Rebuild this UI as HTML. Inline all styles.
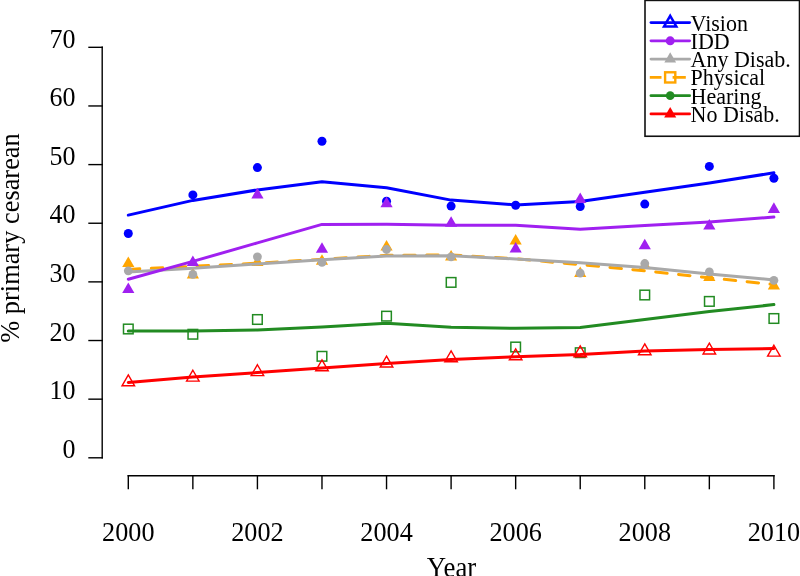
<!DOCTYPE html>
<html><head><meta charset="utf-8"><title>% primary cesarean by year</title>
<style>html,body{margin:0;padding:0;background:#fff;}svg{display:block;}</style></head>
<body><svg width="800" height="576" viewBox="0 0 800 576">
<rect width="800" height="576" fill="#fff"/>
<g stroke="#000" stroke-width="1.4" fill="none" stroke-linecap="square">
<line x1="102.2" y1="47.32" x2="102.2" y2="457.8"/>
<line x1="89" y1="457.8" x2="102.2" y2="457.8"/>
<line x1="89" y1="399.16" x2="102.2" y2="399.16"/>
<line x1="89" y1="340.52" x2="102.2" y2="340.52"/>
<line x1="89" y1="281.88" x2="102.2" y2="281.88"/>
<line x1="89" y1="223.24" x2="102.2" y2="223.24"/>
<line x1="89" y1="164.6" x2="102.2" y2="164.6"/>
<line x1="89" y1="105.96" x2="102.2" y2="105.96"/>
<line x1="89" y1="47.32" x2="102.2" y2="47.32"/>
<line x1="128.3" y1="475.8" x2="773.9" y2="475.8"/>
<line x1="128.3" y1="475.8" x2="128.3" y2="488.6"/>
<line x1="192.86" y1="475.8" x2="192.86" y2="488.6"/>
<line x1="257.42" y1="475.8" x2="257.42" y2="488.6"/>
<line x1="321.98" y1="475.8" x2="321.98" y2="488.6"/>
<line x1="386.54" y1="475.8" x2="386.54" y2="488.6"/>
<line x1="451.1" y1="475.8" x2="451.1" y2="488.6"/>
<line x1="515.66" y1="475.8" x2="515.66" y2="488.6"/>
<line x1="580.22" y1="475.8" x2="580.22" y2="488.6"/>
<line x1="644.78" y1="475.8" x2="644.78" y2="488.6"/>
<line x1="709.34" y1="475.8" x2="709.34" y2="488.6"/>
<line x1="773.9" y1="475.8" x2="773.9" y2="488.6"/>
</g>
<g font-family="'Liberation Serif', 'Times New Roman', serif" fill="#000">
<text transform="translate(75.6,458) scale(1,1.09)" font-size="26" text-anchor="end">0</text>
<text transform="translate(75.6,399.36) scale(1,1.09)" font-size="26" text-anchor="end">10</text>
<text transform="translate(75.6,340.72) scale(1,1.09)" font-size="26" text-anchor="end">20</text>
<text transform="translate(75.6,282.08) scale(1,1.09)" font-size="26" text-anchor="end">30</text>
<text transform="translate(75.6,223.44) scale(1,1.09)" font-size="26" text-anchor="end">40</text>
<text transform="translate(75.6,164.8) scale(1,1.09)" font-size="26" text-anchor="end">50</text>
<text transform="translate(75.6,106.16) scale(1,1.09)" font-size="26" text-anchor="end">60</text>
<text transform="translate(75.6,47.52) scale(1,1.09)" font-size="26" text-anchor="end">70</text>
<text transform="translate(128.3,540.7) scale(1,1.07)" font-size="26.2" text-anchor="middle">2000</text>
<text transform="translate(257.42,540.7) scale(1,1.07)" font-size="26.2" text-anchor="middle">2002</text>
<text transform="translate(386.54,540.7) scale(1,1.07)" font-size="26.2" text-anchor="middle">2004</text>
<text transform="translate(515.66,540.7) scale(1,1.07)" font-size="26.2" text-anchor="middle">2006</text>
<text transform="translate(644.78,540.7) scale(1,1.07)" font-size="26.2" text-anchor="middle">2008</text>
<text transform="translate(773.9,540.7) scale(1,1.07)" font-size="26.2" text-anchor="middle">2010</text>
<text transform="translate(451.5,576.6) scale(1,1.07)" font-size="26.8" text-anchor="middle">Year</text>
<text transform="translate(19.3,238) rotate(-90) scale(1,1.0)" font-size="26.4" text-anchor="middle">% primary cesarean</text>
</g>
<polyline points="128.3,269.4 192.86,266.3 257.42,263.2 321.98,259.3 386.54,255.3 451.1,255 515.66,258.8 580.22,264.6 644.78,270.8 709.34,277.8 773.9,284.5" fill="none" stroke="#FFA500" stroke-width="3.0" stroke-linejoin="round" stroke-linecap="round" stroke-dasharray="11.49 11.49"/>
<polygon points="128.3,256.56 134.4,267.12 122.2,267.12" fill="#FFA500"/>
<polygon points="192.86,267.86 198.96,278.42 186.76,278.42" fill="#FFA500"/>
<polygon points="257.42,255.56 263.52,266.12 251.32,266.12" fill="#FFA500"/>
<polygon points="321.98,254.16 328.08,264.72 315.88,264.72" fill="#FFA500"/>
<polygon points="386.54,240.06 392.64,250.62 380.44,250.62" fill="#FFA500"/>
<polygon points="451.1,250.06 457.2,260.62 445,260.62" fill="#FFA500"/>
<polygon points="515.66,233.96 521.76,244.52 509.56,244.52" fill="#FFA500"/>
<polygon points="580.22,266.46 586.32,277.02 574.12,277.02" fill="#FFA500"/>
<polygon points="644.78,258.76 650.88,269.32 638.68,269.32" fill="#FFA500"/>
<polygon points="709.34,270.56 715.44,281.12 703.24,281.12" fill="#FFA500"/>
<polygon points="773.9,278.86 780,289.42 767.8,289.42" fill="#FFA500"/>
<polyline points="128.3,272 192.86,268.3 257.42,264 321.98,259.8 386.54,256 451.1,255.8 515.66,258.9 580.22,262.8 644.78,267.5 709.34,273.9 773.9,279.9" fill="none" stroke="#A9A9A9" stroke-width="3.0" stroke-linejoin="round" stroke-linecap="round"/>
<circle cx="128.3" cy="270.8" r="4.4" fill="#A9A9A9"/>
<circle cx="192.86" cy="274.4" r="4.4" fill="#A9A9A9"/>
<circle cx="257.42" cy="256.8" r="4.4" fill="#A9A9A9"/>
<circle cx="321.98" cy="262.4" r="4.4" fill="#A9A9A9"/>
<circle cx="386.54" cy="249.5" r="4.4" fill="#A9A9A9"/>
<circle cx="451.1" cy="256.9" r="4.4" fill="#A9A9A9"/>
<circle cx="580.22" cy="273.2" r="4.4" fill="#A9A9A9"/>
<circle cx="644.78" cy="263.5" r="4.4" fill="#A9A9A9"/>
<circle cx="709.34" cy="271.9" r="4.4" fill="#A9A9A9"/>
<circle cx="773.9" cy="280.3" r="4.4" fill="#A9A9A9"/>
<polyline points="128.3,215.1 192.86,200.4 257.42,189.9 321.98,181.7 386.54,187.7 451.1,200.1 515.66,204.9 580.22,201.6 644.78,192.3 709.34,183.1 773.9,172.8" fill="none" stroke="#0000FF" stroke-width="3.0" stroke-linejoin="round" stroke-linecap="round"/>
<circle cx="128.3" cy="233.5" r="4.5" fill="#0000FF"/>
<circle cx="192.86" cy="194.9" r="4.5" fill="#0000FF"/>
<circle cx="257.42" cy="167.6" r="4.5" fill="#0000FF"/>
<circle cx="321.98" cy="141.3" r="4.5" fill="#0000FF"/>
<circle cx="386.54" cy="201.3" r="4.5" fill="#0000FF"/>
<circle cx="451.1" cy="206.1" r="4.5" fill="#0000FF"/>
<circle cx="515.66" cy="205.3" r="4.5" fill="#0000FF"/>
<circle cx="580.22" cy="206.5" r="4.5" fill="#0000FF"/>
<circle cx="644.78" cy="204.1" r="4.5" fill="#0000FF"/>
<circle cx="709.34" cy="166.4" r="4.5" fill="#0000FF"/>
<circle cx="773.9" cy="178.2" r="4.5" fill="#0000FF"/>
<polyline points="128.3,279.2 192.86,261.4 257.42,242.9 321.98,224.4 386.54,224.2 451.1,225.2 515.66,225.2 580.22,229.2 644.78,225.5 709.34,221.9 773.9,217.1" fill="none" stroke="#A020F0" stroke-width="3.0" stroke-linejoin="round" stroke-linecap="round"/>
<polygon points="128.3,282.56 134.4,293.12 122.2,293.12" fill="#A020F0"/>
<polygon points="192.86,255.46 198.96,266.02 186.76,266.02" fill="#A020F0"/>
<polygon points="257.42,187.86 263.52,198.42 251.32,198.42" fill="#A020F0"/>
<polygon points="321.98,242.26 328.08,252.82 315.88,252.82" fill="#A020F0"/>
<polygon points="386.54,196.76 392.64,207.32 380.44,207.32" fill="#A020F0"/>
<polygon points="451.1,216.26 457.2,226.82 445,226.82" fill="#A020F0"/>
<polygon points="515.66,241.96 521.76,252.52 509.56,252.52" fill="#A020F0"/>
<polygon points="580.22,192.56 586.32,203.12 574.12,203.12" fill="#A020F0"/>
<polygon points="644.78,238.76 650.88,249.32 638.68,249.32" fill="#A020F0"/>
<polygon points="709.34,219.06 715.44,229.62 703.24,229.62" fill="#A020F0"/>
<polygon points="773.9,202.36 780,212.92 767.8,212.92" fill="#A020F0"/>
<polyline points="128.3,331.1 192.86,331.1 257.42,330 321.98,326.9 386.54,323.3 451.1,327.2 515.66,328.3 580.22,327.6 644.78,319.4 709.34,311.5 773.9,304.6" fill="none" stroke="#228B22" stroke-width="3.0" stroke-linejoin="round" stroke-linecap="round"/>
<rect x="123.5" y="324.2" width="9.6" height="9.6" fill="none" stroke="#228B22" stroke-width="1.5"/>
<rect x="188.06" y="329.45" width="9.6" height="9.6" fill="none" stroke="#228B22" stroke-width="1.5"/>
<rect x="252.62" y="314.7" width="9.6" height="9.6" fill="none" stroke="#228B22" stroke-width="1.5"/>
<rect x="317.18" y="351.5" width="9.6" height="9.6" fill="none" stroke="#228B22" stroke-width="1.5"/>
<rect x="381.74" y="311.35" width="9.6" height="9.6" fill="none" stroke="#228B22" stroke-width="1.5"/>
<rect x="446.3" y="277.6" width="9.6" height="9.6" fill="none" stroke="#228B22" stroke-width="1.5"/>
<rect x="510.86" y="342.2" width="9.6" height="9.6" fill="none" stroke="#228B22" stroke-width="1.5"/>
<rect x="575.42" y="347.9" width="9.6" height="9.6" fill="none" stroke="#228B22" stroke-width="1.5"/>
<rect x="639.98" y="290.2" width="9.6" height="9.6" fill="none" stroke="#228B22" stroke-width="1.5"/>
<rect x="704.54" y="296.6" width="9.6" height="9.6" fill="none" stroke="#228B22" stroke-width="1.5"/>
<rect x="769.1" y="313.7" width="9.6" height="9.6" fill="none" stroke="#228B22" stroke-width="1.5"/>
<polyline points="128.3,382.4 192.86,377 257.42,372.6 321.98,368 386.54,363.4 451.1,359.6 515.66,356.7 580.22,354.6 644.78,351 709.34,349.6 773.9,348.6" fill="none" stroke="#FF0000" stroke-width="3.0" stroke-linejoin="round" stroke-linecap="round"/>
<polygon points="128.3,374.95 134.58,385.82 122.02,385.82" fill="none" stroke="#FF0000" stroke-width="1.4"/>
<polygon points="192.86,370.25 199.14,381.12 186.58,381.12" fill="none" stroke="#FF0000" stroke-width="1.4"/>
<polygon points="257.42,364.75 263.7,375.62 251.14,375.62" fill="none" stroke="#FF0000" stroke-width="1.4"/>
<polygon points="321.98,359.85 328.26,370.73 315.7,370.73" fill="none" stroke="#FF0000" stroke-width="1.4"/>
<polygon points="386.54,356.05 392.82,366.93 380.26,366.93" fill="none" stroke="#FF0000" stroke-width="1.4"/>
<polygon points="451.1,350.85 457.38,361.73 444.82,361.73" fill="none" stroke="#FF0000" stroke-width="1.4"/>
<polygon points="515.66,348.95 521.94,359.82 509.38,359.82" fill="none" stroke="#FF0000" stroke-width="1.4"/>
<polygon points="580.22,345.95 586.5,356.82 573.94,356.82" fill="none" stroke="#FF0000" stroke-width="1.4"/>
<polygon points="644.78,343.95 651.06,354.82 638.5,354.82" fill="none" stroke="#FF0000" stroke-width="1.4"/>
<polygon points="709.34,343.15 715.62,354.02 703.06,354.02" fill="none" stroke="#FF0000" stroke-width="1.4"/>
<polygon points="773.9,345.25 780.18,356.12 767.62,356.12" fill="none" stroke="#FF0000" stroke-width="1.4"/>
<rect x="645" y="0.4" width="154.5" height="135.85" fill="none" stroke="#111" stroke-width="1.6"/>
<line x1="651.0" y1="22.6" x2="689.6" y2="22.6" stroke="#0000FF" stroke-width="2.9" stroke-linecap="round"/>
<line x1="651.0" y1="40.86" x2="689.6" y2="40.86" stroke="#A020F0" stroke-width="2.9" stroke-linecap="round"/>
<line x1="651.0" y1="59.12" x2="689.6" y2="59.12" stroke="#A9A9A9" stroke-width="2.9" stroke-linecap="round"/>
<path d="M649.8 77.38H661.5M672.6 77.38H685.8" stroke="#FFA500" stroke-width="2.9" fill="none"/>
<line x1="651.0" y1="95.64" x2="689.6" y2="95.64" stroke="#228B22" stroke-width="2.9" stroke-linecap="round"/>
<line x1="651.0" y1="113.9" x2="689.6" y2="113.9" stroke="#FF0000" stroke-width="2.9" stroke-linecap="round"/>
<polygon points="670.2,15.8 676.35,26.45 664.05,26.45" fill="none" stroke="#0000FF" stroke-width="2.5"/>
<circle cx="670.2" cy="40.86" r="4.5" fill="#A020F0"/>
<polygon points="670.2,52.32 676.09,62.52 664.31,62.52" fill="#A9A9A9"/>
<rect x="665.1" y="72.28" width="10.2" height="10.2" fill="none" stroke="#FFA500" stroke-width="2.4"/>
<circle cx="670.2" cy="95.64" r="4.3" fill="#228B22"/>
<polygon points="670.2,106.9 676.26,117.4 664.14,117.4" fill="#FF0000"/>
<g font-family="'Liberation Serif', 'Times New Roman', serif" fill="#000">
<text transform="translate(690.6,30.5) scale(1,1.05)" font-size="22.0" text-anchor="start">Vision</text>
<text transform="translate(690.6,48.76) scale(1,1.05)" font-size="22.0" text-anchor="start">IDD</text>
<text transform="translate(690.6,67.02) scale(1,1.05)" font-size="22.0" text-anchor="start">Any Disab.</text>
<text transform="translate(690.6,85.28) scale(1,1.05)" font-size="22.0" text-anchor="start">Physical</text>
<text transform="translate(690.6,103.54) scale(1,1.05)" font-size="22.0" text-anchor="start">Hearing</text>
<text transform="translate(690.6,121.8) scale(1,1.05)" font-size="22.0" text-anchor="start">No Disab.</text>
</g>
</svg></body></html>
